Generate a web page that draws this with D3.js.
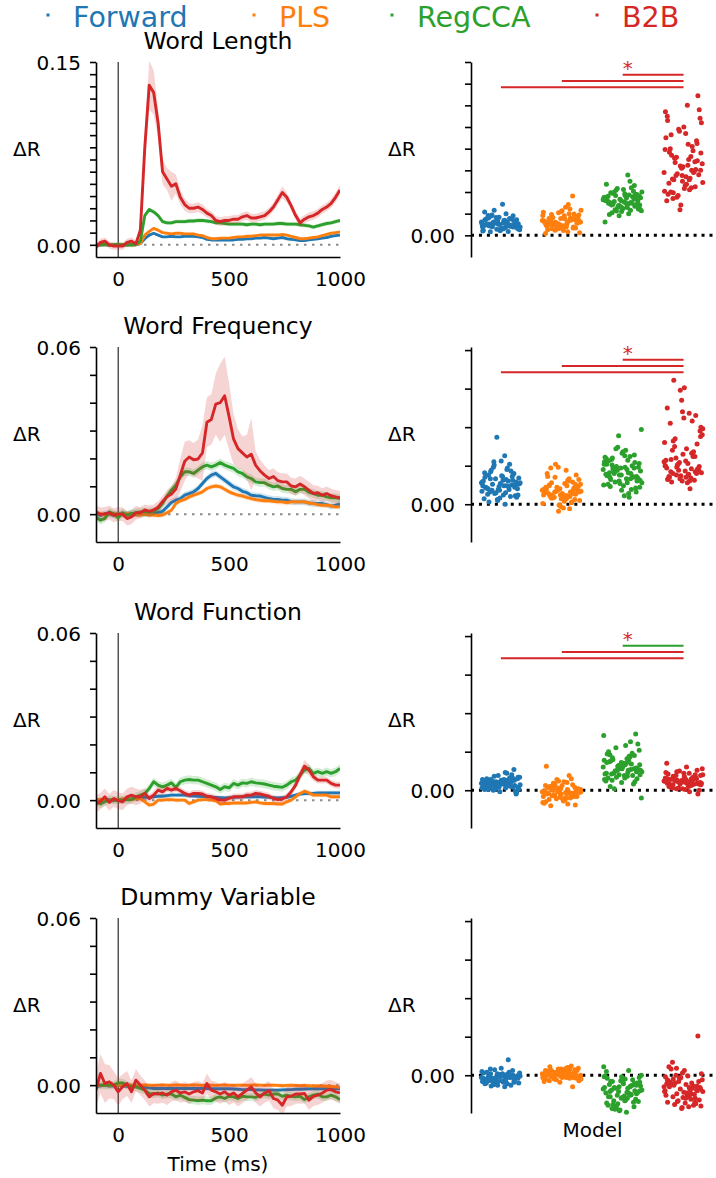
<!DOCTYPE html>
<html>
<head>
<meta charset="utf-8">
<script src="https://cdn.jsdelivr.net/npm/d3@7"></script>
<style>
  body { margin: 0; background: #fff; }
  svg { display: block; font-family: "DejaVu Sans", sans-serif; }
</style>
</head>
<body>
<svg id="chart" width="716" height="1178"></svg>
<script>
// ---------------------------------------------------------------------------
// Models and colours
const models = ["Forward", "PLS", "RegCCA", "B2B"];
const colors = ["#1f77b4", "#ff7f0e", "#2ca02c", "#d62728"];
const panelTitles = ["Word Length", "Word Frequency", "Word Function", "Dummy Variable"];

// Time axis of the decoding time courses (ms)
const times = [-100,-80,-60,-40,-20,0,20,40,60,80,100,120,140,160,180,200,220,240,260,280,
  300,320,340,360,380,400,420,440,460,480,500,520,540,560,580,600,620,640,660,680,
  700,720,740,760,780,800,820,840,860,880,900,920,940,960,980,1000];
const xTickValues = [0, 500, 1000];

// Time courses: mean ΔR (x10^-3)
const lengthForward = [0.3,-0.2,0.1,0,-0.3,0.2,0,-0.1,0.2,0.1,
  1,5,8,9.5,8,6.5,6.5,7,6.5,6.5,7,7,7,6.5,6,4.5,4,4,4,4,4,4,4.5,4.5,5,5,5.5,5.5,6,5.5,5,5.5,6,5,4.5,4,3.5,3.5,4,4.5,5,5.5,6,7,7.5,8];
const lengthPLS = [-0.2,0.3,0,-0.3,0.1,-0.2,0.2,0,-0.1,0.2,
  1,8,11,13.5,12,10,9.5,9,9.5,9.5,9,9,9,8,7.5,6,5,5,5.5,5.5,5.5,6,6.5,6.5,7,7,7.5,8,8,8,8,8,8.5,8,7,6,5,5,5.5,6,6.5,7.5,8.5,9.5,10,10.5];
const lengthRegCCA = [-0.5,0.2,0.4,-0.3,0,0.3,-0.2,0.1,0,0.3,
  3,24,29,27,24,19,18,18,19,19,19,19.5,19.5,20,20,19.5,19,18,18,17.5,17,17,17,17,16.5,17,17,16.5,17,17,17,17.5,17.5,17,17,17,16.5,16,15.5,14.5,15.5,16.5,17.5,18,19,20];
const lengthB2B = [-2,2,3,0,-1,-1,-1,2,3,1,
  12,80,131,125,100,60,54,48,50,39,33,30,30,31,29,26,24,20,19,20,20,21,21,23,24,22,22,23,24,27,31,37,43,39,32,24,18,21,23,24,26,29,31,34,39,45];

const freqForward = [0.3,-0.5,0.2,0,-0.3,0.2,0,-0.2,0.1,0.3,
  0,0.2,0.1,0.4,0.6,1,2.6,4.2,5,5.6,6.8,7.4,8,9.2,11,12.8,14,14.6,13.4,12.2,11,9.8,9.2,8.2,7.7,6.8,6.6,6.5,6,5.6,5.3,5.3,5,5,4.5,4.4,4.4,4.4,4,3.8,3.8,3.8,3.4,2.9,3.2,3.6];
const freqPLS = [0.5,0.2,-0.3,0,0.3,0,-0.2,0.2,0,-0.2,
  -0.3,0,-0.3,-0.3,-0.5,-0.3,0.5,1.4,3.8,4.8,5.3,6.2,6.8,7.4,8,9.2,9.8,10.1,9.8,8.9,8,7.4,6.8,6.5,6,5.6,5.2,5,4.8,4.8,4.6,4.4,4.4,4.1,4.4,4.4,4.4,4.4,4,3.8,3.4,3.2,3.2,3,2.6,2.6];
const freqRegCCA = [-1,-2.2,-1.5,0.8,0,-1.3,0.5,-0.4,0.2,0.5,
  0.8,0.8,0.8,1,2,3.8,6.5,8.6,10.4,13.4,15.2,15.2,14.6,15.8,17,17.6,17,17.6,18.5,17.6,17,16.4,15.2,14.6,13.4,12.8,11.6,11.3,11.3,10.4,9.8,10.1,9.2,8.9,8.9,8,8.9,8.9,7.8,7.4,6.8,6.8,6.2,5.9,5.9,5.6];
const freqB2B = [0.8,-0.1,0.1,0.5,-0.4,0,0,-1.6,-1,0.5,
  0.5,1.5,1,1.5,2.5,4.5,6.2,7.2,9,14,19,20.5,19.5,19.8,22,33,34,39.5,40,42.5,35,27,23.5,22,20.5,21.5,17.5,15.5,14,12.8,13.5,12,11.6,11.6,10.1,9.8,10.8,9.8,8.6,7.4,7.7,6.8,7.4,6.6,6.2,5.9];

const funcForward = [0.2,-0.3,0.3,0,-0.2,0.1,0,0.3,0.5,0.8,
  0.8,1,1,1.2,1.4,1.4,1.6,1.8,1.8,1.8,1.8,1.6,1.5,1.4,1.3,1.2,1.1,1,0.9,0.8,0.9,1,1.1,1.2,1.2,1.2,1.2,1.2,1.1,1,0.9,0.8,0.9,1,1.4,1.8,2.2,2.4,2.4,2.4,2.6,2.6,2.6,2.6,2.6,2.6];
const funcPLS = [-0.2,0.3,0,-0.3,0.2,0,0.4,0.2,0.3,0.5,
  0.6,-0.6,-1.8,-1.4,0,0,0.2,0.2,0,0,0,-1.2,-0.6,0,0.2,0.2,0,-0.2,-1.4,-1.2,-1.2,-1,-1,-1,-1,-0.8,-0.6,-1,-1.2,-1.2,-1.2,-1.4,-1.4,-0.6,0,1.2,2.4,3.2,2.6,1.8,1.8,1.8,1.8,1.2,1.2,1.2];
const funcRegCCA = [-0.6,-1.4,-0.6,0.2,0,0,0,0.2,0.2,1.2,
  1.8,2.4,4.2,6.6,5.4,4.8,5.4,6.2,4.6,6.6,7.2,7.4,7.2,7.2,6.6,6,5.4,4.8,3.8,4.8,4.4,6,5.4,6.2,6,6.6,6.2,6,5.8,5.4,5,4.8,4.6,5.4,6.6,7.2,9,10.8,11.4,9.6,10.2,9.6,10.2,9.6,10.2,11.4];
const funcB2B = [-1.4,-0.4,1.2,-0.8,0.6,-0.2,-0.6,1.2,1.8,1.2,
  1.2,2.4,0.6,1.8,3.6,3,4.2,3.6,4.2,3.4,2.4,1.8,2.4,2.4,2.2,1.4,1.2,0.6,0,0,0.6,1.2,1.2,1.2,1.8,1.8,2.4,2.2,1.8,1.4,0.6,0.2,0.4,1.2,3,5.4,9,12.2,10.8,8.4,7.2,7.2,7.2,6,5.4,5.4];

const dummyForward = [-0.4,-0.2,0,-0.3,-0.2,0,-0.2,-0.4,-0.4,-0.5,
  -0.6,-0.8,-1,-1.2,-1.2,-1.2,-1.2,-1.2,-1.2,-1.2,-1.2,-1.2,-1.2,-1.2,-1.2,-1.2,-1.3,-1.3,-1.3,-1.3,-1.3,-1.4,-1.5,-1.6,-1.6,-1.6,-1.7,-1.7,-1.8,-1.8,-1.8,-1.8,-1.7,-1.6,-1.6,-1.5,-1.5,-1.4,-1.3,-1.3,-1.3,-1.3,-1.3,-1.3,-1.3,-1.3];
const dummyPLS = [-0.2,0.1,0,-0.1,0.2,0,-0.2,0.1,0,-0.1,
  0,0.1,0,-0.1,0,0.1,0,-0.1,0.1,0,-0.1,0,0.1,0,-0.1,0,0,-0.1,0,0.1,0,-0.1,0,0,-0.1,0,0.1,0,-0.1,0,0,-0.1,-0.2,-0.1,0,-0.1,-0.2,-0.1,-0.2,-0.3,-0.2,-0.3,-0.4,-0.5,-0.6,-0.8];
const dummyRegCCA = [0,0,0,0,0,0.8,0.8,0,-0.6,-0.6,
  -1.2,-1.8,-3,-3.2,-2.8,-3.6,-3.2,-3.2,-4.2,-3.6,-4.4,-5.2,-5.4,-5.6,-5.4,-5.6,-5.6,-4.6,-4.2,-4.8,-4,-4.2,-4.8,-4,-4.2,-4.2,-4.4,-3.6,-3.2,-3.6,-3.2,-3.2,-4,-3.6,-4,-4.2,-4,-5.2,-4.2,-3.6,-3.2,-4.2,-4.2,-3.6,-4.2,-5.2];
const dummyB2B = [-1.8,4.2,0.6,1.2,0,-2.4,-0.6,0.6,-2.4,1.8,
  0,-1.8,-4.2,-3,-3.2,-2.8,-3.6,-2.4,-1.8,-2.8,-2.4,-3.2,-2.4,-2,-2.8,0.6,-1.8,-2.4,-3.2,-2.4,-3.6,-2.8,-4.2,-3,-1.8,-0.6,-2.8,-4.2,-2.8,-2,-4.8,-5.4,-7.2,-4.2,-4,-3.2,-3.2,-3,-5.4,-4,-3.6,-2.8,-1.8,-1.6,-2.4,-2.8];

// Confidence half-widths (x10^-3): one number = constant over time
const lengthCI = [1, 1, 1.8, [3,3,3,3,3,3,3,3,3,3,
  6,12,20,18,12,10,9,12,8,6,5,4,4,4,4,3.5,3.5,3.5,3.5,3.5,3.5,3.5,3.5,3.5,3.5,3.5,3.5,3.5,3.5,3.5,3.5,4,5,4,3.5,3.5,3.5,3.5,3.5,3.5,3.5,3.5,3.5,3.5,4,4]];
const freqCI = [1.2, 0.9, 1.5, [2.5,2.5,2.5,2.5,2.5,2.5,2.5,2.5,2.5,2.5,
  2,2,2,2,2,2,2.5,3,4,6,7,6,6,7,10,9,9,11,14,14,12,9,7,6,8,13,5,4,3.5,3,3,3,3,3,3,3,3,3,3,3,2.5,2.5,2.5,2.5,2.5,2.5]];
const funcCI = [0.8, 0.8, 1.5, [3,3,3,3,3,3,3,3,3,3,
  2.5,2,1.5,1.5,1.5,1.5,1.2,1.2,1.2,1.2,1.2,1.2,1.2,1.2,1.2,1.2,1.2,1.2,1.2,1.2,1.2,1.2,1.2,1.2,1.2,1.2,1.2,1.2,1.2,1.2,1.2,1.2,1.2,1.2,1.2,1.5,2,2.2,2,1.5,1.2,1.2,1.2,1.2,1.2,1.2]];
const dummyCI = [0.8, 0.7, 1.5, [6,7,7,6,5,5,4.5,4.5,4,4,
  3.5,3.5,3.5,3.5,3.5,3.5,3.5,3.5,3.5,3.5,3.5,3.5,3.5,3.5,3.5,3.5,3.5,3.5,3.5,3.5,3.5,3.5,3.5,3.5,3.5,3.5,3.5,3.5,3.5,3.5,3.5,3.5,3.5,3.5,3.5,3.5,3.5,3.5,3.5,3.5,3.5,3.5,3.5,3.5,3.5,3.5]];

// Per-split average ΔR (x10^-4) for the strip plots
const lengthSplitsForward = [31,18,44,25,12,36,22,58,27,15,40,20,33,10,28,47,24,16,38,21,29,13,35,26,19,42,23,9,30,17,72,25,37,14,27,50,21,32,11,24,39,28,18,34,22,45,26,12,30,20,36,16,27,23,41,19,29,8,33,25,54,22,31,15,28,46,24,35,20,26];
const lengthSplitsPLS = [34,22,48,17,39,27,61,12,30,45,25,19,52,33,8,41,28,57,21,36,14,31,65,26,43,18,29,50,24,37,11,32,91,20,46,27,15,35,55,23,40,30,6,38,25,49,16,33,71,28,42,21,13,36,26,58,19,31,44,24,4,34,29,47,22,39,17,27,53,30];
const lengthSplitsRegCCA = [82,64,97,71,55,88,76,104,60,92,73,115,68,84,50,99,79,62,90,74,108,57,86,70,95,66,80,125,59,91,77,48,102,69,85,139,72,94,63,81,110,56,87,75,98,67,83,31,93,78,61,106,74,89,65,100,71,52,86,80,118,58,92,70,96,76,84,45,88,73];
const lengthSplitsB2B = [145,210,98,172,125,265,150,88,190,135,232,112,160,285,105,178,140,250,120,195,92,165,300,130,218,155,80,182,138,270,115,200,148,240,102,175,128,322,158,95,205,142,260,118,185,152,70,225,132,168,290,108,192,145,245,122,162,85,212,138,275,110,180,150,235,100,170,59,198,128];

const freqSplitsForward = [28,15,42,22,8,35,19,51,26,12,38,31,5,24,45,18,29,56,21,10,33,27,63,16,40,23,7,30,48,20,36,13,25,87,17,32,44,11,27,22,52,14,34,24,3,39,19,30,47,26,9,37,21,43,15,28,0,33,25,18,41,23,55,12,31,20,36,6,29,24];
const freqSplitsPLS = [18,7,28,13,-3,22,10,35,16,4,25,19,-9,12,31,8,21,14,40,2,17,26,11,47,6,20,15,33,9,23,-5,14,29,18,1,24,12,38,7,19,16,52,5,27,11,21,-1,15,30,9,18,13,36,3,22,17,44,8,26,12,20,-6,16,32,10,24,14,48,19,11];
const freqSplitsRegCCA = [45,28,60,36,18,52,40,72,31,48,23,64,38,55,14,42,34,68,26,50,44,97,33,58,21,47,39,62,29,53,11,41,35,89,25,57,46,30,66,37,19,49,43,70,32,54,27,61,9,40,48,24,56,36,74,28,45,51,16,38,59,33,43,22,63,35,47,30,52,41];
const freqSplitsB2B = [55,38,82,45,120,32,66,48,100,35,58,42,148,50,30,75,44,112,36,62,52,90,28,70,40,135,47,34,60,95,43,105,31,54,80,39,161,46,65,33,108,51,41,72,29,115,37,57,20,85,49,151,35,68,44,98,53,40,78,30,125,46,38,88,56,42,62,33,50,118];

const funcSplitsForward = [9,3,14,6,-2,11,7,18,4,12,1,16,8,5,22,10,-5,13,6,9,2,17,11,7,27,4,12,8,0,15,10,5,20,9,3,13,7,-1,11,6,16,8,2,14,10,4,19,9,6,12,-3,8,15,5,11,7,23,3,13,9,1,10,6,17,8,4,12,7,14,5];
const funcSplitsPLS = [-2,-10,5,-6,2,-15,-4,8,-1,-12,3,-7,12,-3,-18,0,-8,6,-5,15,-11,1,-3,-20,4,-9,-1,19,-6,2,-14,-4,7,-2,-16,10,-7,0,-5,31,-10,3,-3,-13,5,-8,1,-17,-4,9,-1,-11,4,-6,14,-2,-9,2,-19,-5,6,-3,-7,0,11,-12,-4,3,-8,1];
const funcSplitsRegCCA = [30,18,42,24,10,36,27,55,20,33,5,45,28,14,39,22,60,31,16,48,26,-10,35,21,73,29,12,43,25,52,19,37,8,32,71,23,40,15,28,47,34,17,26,58,38,11,30,21,44,2,27,35,50,19,31,24,41,13,29,36,22,63,25,33,16,46,28,20,39,26];
const funcSplitsB2B = [12,6,18,9,2,15,11,24,7,14,4,20,10,16,-2,13,8,22,5,17,11,28,9,3,15,12,35,6,19,10,1,14,8,25,12,5,17,-5,11,21,7,13,9,30,4,16,10,23,6,12,0,18,8,14,3,20,11,7,26,13,9,15,2,19,10,5,17,8,12,22];

const dummySplitsForward = [-3,-8,2,-5,-1,-11,4,-6,0,-9,-2,6,-13,-4,1,-7,-3,9,-10,-1,-6,3,-15,-2,-8,0,-5,20,-12,-3,2,-7,-1,-9,5,-4,-14,-2,1,-6,-3,7,-10,-1,-5,0,-8,3,-11,-4,-2,-7,4,-13,-3,-1,-6,8,-9,-2,-5,1,-12,-4,0,-7,-3,2,-8,-1];
const dummySplitsPLS = [2,-3,6,-1,4,-5,8,0,-2,5,-7,3,1,-4,10,-1,6,-3,2,12,-6,0,4,-2,7,-9,1,3,-5,9,-1,5,-15,2,-3,6,0,-4,8,1,-2,4,-6,3,11,-1,2,-8,5,0,-3,7,1,-2,4,-5,9,0,3,-1,6,-4,2,-7,5,1,-3,8,0,-2];
const dummySplitsRegCCA = [-18,-30,-8,-24,-2,-36,-14,-42,-20,-5,-28,-11,-46,-16,6,-33,-22,-9,-39,-13,-26,0,-48,-19,-31,-7,-23,-15,-44,-3,-27,-12,-35,-21,11,-17,-38,-10,-29,-4,-25,-40,-14,-32,-8,-20,-45,-1,-24,-16,-34,-11,-28,-6,-37,-19,-22,-43,-13,-30,5,-26,-17,-9,-33,-21,-41,-15,-2,-23];
const dummySplitsB2B = [-15,-28,-5,-20,3,-35,-10,-24,-40,-12,8,-30,-18,-2,-26,-38,-8,-22,11,-14,-33,-6,-27,17,-19,-43,-11,-31,0,-16,-36,-9,-25,-4,-21,-41,-13,51,-29,-7,-17,-34,2,-23,-12,-37,-3,-26,-19,-10,-32,6,-15,-39,-8,-21,-1,-28,-14,-42,-6,-24,9,-18,-30,-11,-35,-4,-20,-16];

// Axis limits (ΔR)
const timeYMax = [0.15, 0.06, 0.06, 0.06];
const timeYMin = -0.01;
const splitYMax = [0.04, 0.0204, 0.0204, 0.0204];
const splitYMin = [-0.005, -0.0049, -0.0049, -0.0049];
const splitTickStep = 0.005;

// Significant pairwise differences: [model a, model b, colour of the better model]
const sigLength = [[2, 3, 3], [1, 3, 3], [0, 3, 3]];
const sigFreq = [[2, 3, 3], [1, 3, 3], [0, 3, 3]];
const sigFunc = [[2, 3, 2], [1, 3, 3], [0, 3, 3]];
const sigDummy = [];

// ---------------------------------------------------------------------------
const panels = [
  { means: [lengthForward, lengthPLS, lengthRegCCA, lengthB2B], ci: lengthCI,
    splits: [lengthSplitsForward, lengthSplitsPLS, lengthSplitsRegCCA, lengthSplitsB2B], sig: sigLength },
  { means: [freqForward, freqPLS, freqRegCCA, freqB2B], ci: freqCI,
    splits: [freqSplitsForward, freqSplitsPLS, freqSplitsRegCCA, freqSplitsB2B], sig: sigFreq },
  { means: [funcForward, funcPLS, funcRegCCA, funcB2B], ci: funcCI,
    splits: [funcSplitsForward, funcSplitsPLS, funcSplitsRegCCA, funcSplitsB2B], sig: sigFunc },
  { means: [dummyForward, dummyPLS, dummyRegCCA, dummyB2B], ci: dummyCI,
    splits: [dummySplitsForward, dummySplitsPLS, dummySplitsRegCCA, dummySplitsB2B], sig: sigDummy }
];

const svg = d3.select("#chart");
const FONT = "DejaVu Sans, sans-serif";

// Layout
const rowTop = [62, 347, 633, 918];
const axH = 195;
const left = { x0: 96, x1: 340 };
const right = { x0: 471, x1: 714 };
const jitterHalf = 19.5;

const x = d3.scaleLinear().domain([-100, 1000]).range([left.x0, left.x1]);
const band = d3.scaleBand().domain(models).range([470.5, right.x1]);
const cx = m => band(m) + band.bandwidth() / 2;

function styleAxis(g, size) {
  g.selectAll("text").attr("font-family", FONT).attr("font-size", size).attr("fill", "#000");
  g.selectAll("line").attr("stroke", "#000").attr("stroke-width", 1.6);
  g.select(".domain").attr("stroke", "#000").attr("stroke-width", 1.6);
}

// Legend
const legendDot = [48, 254, 392, 597];
models.forEach((m, i) => {
  svg.append("rect").attr("x", legendDot[i] - 1.5).attr("y", 13.5).attr("width", 3).attr("height", 3)
    .attr("fill", colors[i]);
  svg.append("text").attr("x", legendDot[i] + 25).attr("y", 26.5)
    .attr("font-family", FONT).attr("font-size", 28.5).attr("fill", colors[i]).text(m);
});

panels.forEach((p, k) => {
  const top = rowTop[k], bottom = top + axH;

  // ---------------- time course panel ----------------
  const y = d3.scaleLinear().domain([timeYMin, timeYMax[k]]).range([bottom, top]);
  const gL = svg.append("g");

  const clipId = "clip" + k;
  svg.append("clipPath").attr("id", clipId).append("rect")
    .attr("x", left.x0).attr("y", top).attr("width", left.x1 - left.x0).attr("height", axH);

  const plot = gL.append("g").attr("clip-path", `url(#${clipId})`);

  // chance level and stimulus onset
  plot.append("line").attr("x1", x(-100)).attr("x2", x(1000)).attr("y1", y(0)).attr("y2", y(0))
    .attr("stroke", "#8a8a8a").attr("stroke-width", 2).attr("stroke-dasharray", "2.5,5.5");
  plot.append("line").attr("x1", x(0)).attr("x2", x(0)).attr("y1", top).attr("y2", bottom)
    .attr("stroke", "#000").attr("stroke-width", 1);

  p.means.forEach((vals, i) => {
    const ci = p.ci[i];
    const hw = j => (Array.isArray(ci) ? ci[j] : ci);
    const pts = times.map((t, j) => ({ t, v: vals[j] / 1000, h: hw(j) / 1000 }));
    const area = d3.area().x(d => x(d.t)).y0(d => y(d.v - d.h)).y1(d => y(d.v + d.h));
    const line = d3.line().x(d => x(d.t)).y(d => y(d.v));
    plot.append("path").datum(pts).attr("d", area).attr("fill", colors[i]).attr("fill-opacity", 0.2);
    plot.append("path").datum(pts).attr("d", line).attr("fill", "none")
      .attr("stroke", colors[i]).attr("stroke-width", 2.9).attr("stroke-linejoin", "round");
  });

  const yTicks = d3.range(0, timeYMax[k] + 1e-9, 0.01);
  const yAxis = d3.axisLeft(y).tickValues(yTicks).tickSize(6).tickSizeOuter(0).tickPadding(9)
    .tickFormat(d => (Math.abs(d) < 1e-9 || Math.abs(d - timeYMax[k]) < 1e-9) ? d3.format(".2f")(d) : "");
  const gy = gL.append("g").attr("transform", `translate(${left.x0},0)`).call(yAxis);
  styleAxis(gy, 20);
  gy.selectAll("text").attr("dy", "0.36em");

  const xAxis = d3.axisBottom(x).tickValues(xTickValues).tickSize(0).tickSizeOuter(0).tickPadding(15)
    .tickFormat(d3.format("d"));
  const gx = gL.append("g").attr("transform", `translate(0,${bottom})`).call(xAxis);
  styleAxis(gx, 20);

  gL.append("text").attr("x", (left.x0 + left.x1) / 2).attr("y", top - 13.5)
    .attr("text-anchor", "middle").attr("font-family", FONT).attr("font-size", 23.5).text(panelTitles[k]);
  gL.append("text").attr("x", 13).attr("y", top + axH / 2 - 4)
    .attr("font-family", FONT).attr("font-size", 20).text("ΔR");

  // ---------------- per-split strip panel ----------------
  const yR = d3.scaleLinear().domain([splitYMin[k], splitYMax[k]]).range([bottom, top]);
  const gR = svg.append("g");

  gR.append("line").attr("x1", right.x0).attr("x2", 716).attr("y1", yR(0)).attr("y2", yR(0))
    .attr("stroke", "#000").attr("stroke-width", 3).attr("stroke-dasharray", "3,4.95");

  p.splits.forEach((vals, i) => {
    gR.append("g").selectAll("circle").data(vals).join("circle")
      .attr("cx", (d, j) => cx(models[i]) + (((j * 0.6180339887) % 1) - 0.5) * 2 * jitterHalf)
      .attr("cy", d => yR(d / 10000))
      .attr("r", 2.5)
      .attr("fill", colors[i]);
  });

  const rTicks = d3.range(0, splitYMax[k] + 1e-9, splitTickStep);
  const rAxis = d3.axisLeft(yR).tickValues(rTicks).tickSize(6).tickSizeOuter(0).tickPadding(10)
    .tickFormat(d => Math.abs(d) < 1e-9 ? "0.00" : "");
  const gry = gR.append("g").attr("transform", `translate(${right.x0},0)`).call(rAxis);
  styleAxis(gry, 20);
  gry.selectAll("text").attr("dy", "0.36em");

  gR.append("text").attr("x", 388).attr("y", top + axH / 2 - 4)
    .attr("font-family", FONT).attr("font-size", 20).text("ΔR");

  // significance bars
  const sigFrac = [0.935, 0.903, 0.87];
  p.sig.forEach(([a, b, c], r) => {
    const yy = top + (1 - sigFrac[r]) * axH;
    gR.append("line").attr("x1", cx(models[a])).attr("x2", cx(models[b]))
      .attr("y1", yy).attr("y2", yy).attr("stroke", colors[c]).attr("stroke-width", 2);
  });
  if (p.sig.length) {
    gR.append("text").attr("x", cx(models[2]) + 5).attr("y", top + (1 - sigFrac[0]) * axH)
      .attr("text-anchor", "middle").attr("font-family", FONT).attr("font-size", 20)
      .attr("fill", colors[3]).text("*");
  }
});

// axis titles of the bottom row
svg.append("text").attr("x", (left.x0 + left.x1) / 2).attr("y", 1171)
  .attr("text-anchor", "middle").attr("font-family", FONT).attr("font-size", 20).text("Time (ms)");
svg.append("text").attr("x", (right.x0 + right.x1) / 2).attr("y", 1137)
  .attr("text-anchor", "middle").attr("font-family", FONT).attr("font-size", 20).text("Model");
</script>
</body>
</html>
